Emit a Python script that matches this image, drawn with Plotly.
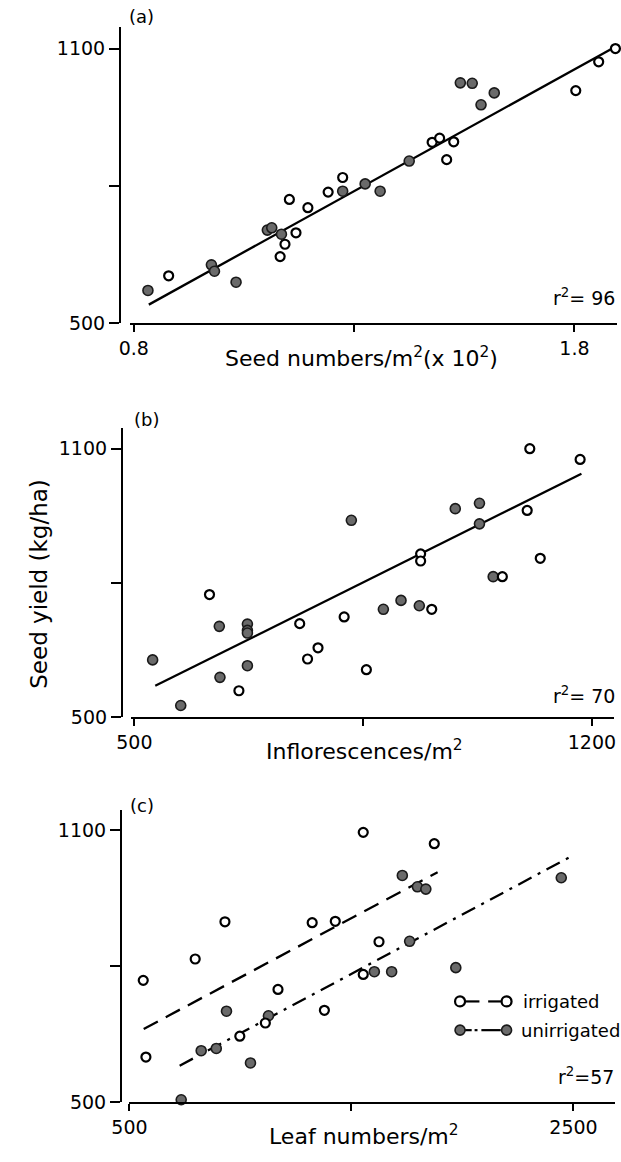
import plotly.graph_objects as go

# ---------------- data ----------------
# Panel (a): seed numbers/m2 (x10^2) vs seed yield (kg/ha)
a_irr_x = [0.879, 1.132, 1.143, 1.168, 1.153, 1.195, 1.241, 1.274, 1.477, 1.494, 1.526, 1.510, 1.803, 1.855, 1.893]
a_irr_y = [603, 645, 672, 697, 770, 752, 786, 818, 895, 904, 896, 857, 1008, 1071, 1100]
a_unirr_x = [0.832, 0.976, 0.983, 1.032, 1.103, 1.113, 1.135, 1.274, 1.325, 1.359, 1.425, 1.541, 1.568, 1.588, 1.618]
a_unirr_y = [571, 627, 613, 589, 703, 708, 694, 788, 804, 788, 854, 1025, 1024, 977, 1003]
a_fit_x = [0.834, 1.893]
a_fit_y = [540, 1104]

# Panel (b): inflorescences/m2 vs seed yield
b_irr_x = [615, 660, 753, 765, 781, 821, 855, 938, 938, 955, 1063, 1101, 1105, 1121, 1182]
b_irr_y = [774, 559, 709, 630, 655, 724, 606, 865, 849, 741, 814, 962, 1100, 855, 1076]
b_unirr_x = [528, 571, 630, 631, 673, 673, 673, 673, 832, 881, 908, 936, 991, 1028, 1028, 1049]
b_unirr_y = [628, 526, 703, 589, 708, 694, 688, 615, 940, 741, 761, 749, 966, 978, 932, 814]
b_fit_x = [532, 1184]
b_fit_y = [570, 1044]

# Panel (c): leaf numbers/m2 vs seed yield
c_irr_x = [562, 574, 796, 930, 997, 1112, 1169, 1323, 1378, 1427, 1553, 1553, 1624, 1873]
c_irr_y = [769, 600, 816, 898, 646, 675, 749, 896, 703, 899, 1095, 782, 854, 1070]
c_unirr_x = [733, 823, 891, 937, 1045, 1126, 1603, 1681, 1729, 1762, 1797, 1835, 1970, 2445]
c_unirr_y = [506, 614, 619, 701, 587, 691, 788, 788, 1000, 855, 975, 970, 797, 995]
c_fit_irr_x = [564, 1888]
c_fit_irr_y = [662, 1007]
c_fit_unirr_x = [726, 2478]
c_fit_unirr_y = [581, 1039]

y_ticks = [500, 1100]
y_minor = [800]
a_ticks = [0.8, 1.8]
a_minor = [1.3]
b_ticks = [500, 1200]
b_minor = [850]
c_ticks = [500, 2500]
c_minor = [1500]

r2_labels = ["r<sup>2</sup>= 96", "r<sup>2</sup>= 70", "r<sup>2</sup>=57"]
panel_labels = ["(a)", "(b)", "(c)"]
x_titles = ["Seed numbers/m<sup>2</sup>(x 10<sup>2</sup>)",
            "Inflorescences/m<sup>2</sup>",
            "Leaf numbers/m<sup>2</sup>"]
y_title = "Seed yield (kg/ha)"
legend_names = ["irrigated", "unirrigated"]

# ---------------- layout helpers ----------------
W, H = 621, 1162
FONT = "DejaVu Sans"


def px(p):
    return p / W


def py(p):
    return 1 - p / H


def val(p, v0, p0, v1, p1):
    return v0 + (p - p0) * (v1 - v0) / (p1 - p0)


panels = [
    dict(xdom=(116, 618), xmap=(0.8, 119.5, 1.8, 574), ydom=(27, 326), ymap=(1100, 49, 500, 326),
         yline=105, xt=a_ticks, xm=a_minor),
    dict(xdom=(117, 615), xmap=(500, 120, 1200, 592), ydom=(432, 724), ymap=(1100, 453, 500, 724),
         yline=107, xt=b_ticks, xm=b_minor),
    dict(xdom=(115, 616), xmap=(500, 115, 2500, 573), ydom=(818, 1113), ymap=(1100, 838, 500, 1113),
         yline=106, xt=c_ticks, xm=c_minor),
]

open_marker = dict(symbol="circle", size=9, color="white", line=dict(color="black", width=2.2))
fill_marker = dict(symbol="circle", size=10, color="#6a6a6a", line=dict(color="#1a1a1a", width=1.6))

fig = go.Figure()


def add_points(x, y, marker, k):
    fig.add_trace(go.Scatter(x=x, y=y, mode="markers", marker=marker, cliponaxis=False,
                             xaxis="x" if k == 1 else f"x{k}", yaxis="y" if k == 1 else f"y{k}",
                             showlegend=False, hoverinfo="x+y"))


def add_line(x, y, dash, k):
    fig.add_trace(go.Scatter(x=x, y=y, mode="lines", line=dict(color="black", width=2.3, dash=dash),
                             cliponaxis=False,
                             xaxis="x" if k == 1 else f"x{k}", yaxis="y" if k == 1 else f"y{k}",
                             showlegend=False, hoverinfo="skip"))


# panel a
add_line(a_fit_x, a_fit_y, "solid", 1)
add_points(a_unirr_x, a_unirr_y, fill_marker, 1)
add_points(a_irr_x, a_irr_y, open_marker, 1)
# panel b
add_line(b_fit_x, b_fit_y, "solid", 2)
add_points(b_unirr_x, b_unirr_y, fill_marker, 2)
add_points(b_irr_x, b_irr_y, open_marker, 2)
# panel c
add_line(c_fit_irr_x, c_fit_irr_y, "16px,9px", 3)
add_line(c_fit_unirr_x, c_fit_unirr_y, "15px,7px,3px,7px", 3)
add_points(c_unirr_x, c_unirr_y, fill_marker, 3)
add_points(c_irr_x, c_irr_y, open_marker, 3)

layout = dict(width=W, height=H, margin=dict(l=0, r=0, t=0, b=0),
              paper_bgcolor="white", plot_bgcolor="white", showlegend=False,
              font=dict(family=FONT, size=19, color="black"))

for i, p in enumerate(panels, start=1):
    xs = "xaxis" if i == 1 else f"xaxis{i}"
    ys = "yaxis" if i == 1 else f"yaxis{i}"
    xr = [val(p["xdom"][0], *p["xmap"]), val(p["xdom"][1], *p["xmap"])]
    yr = [val(p["ydom"][1], *p["ymap"]), val(p["ydom"][0], *p["ymap"])]
    layout[xs] = dict(domain=[px(p["xdom"][0]), px(p["xdom"][1])], range=xr,
                      anchor="y" if i == 1 else f"y{i}",
                      showline=True, linecolor="black", linewidth=1.6, showgrid=False, zeroline=False,
                      ticks="outside", ticklen=7, tickwidth=1.6, tickcolor="black",
                      tickvals=p["xt"], tickfont=dict(family=FONT, size=19),
                      minor=dict(tickvals=p["xm"], ticks="outside", ticklen=7, tickwidth=1.6,
                                 tickcolor="black", showgrid=False))
    layout[ys] = dict(domain=[py(p["ydom"][1]), py(p["ydom"][0])], range=yr,
                      anchor="free", position=px(p["yline"]),
                      showline=True, linecolor="black", linewidth=1.6, showgrid=False, zeroline=False,
                      ticks="outside", ticklen=10, tickwidth=1.6, tickcolor="black",
                      tickvals=y_ticks, tickfont=dict(family=FONT, size=19),
                      minor=dict(tickvals=y_minor, ticks="outside", ticklen=10, tickwidth=1.6,
                                 tickcolor="black", showgrid=False))

annotations = []


def ann(text, x, y, xanchor="center", size=19, angle=0):
    annotations.append(dict(text=text, x=px(x), y=py(y), xref="paper", yref="paper",
                            xanchor=xanchor, yanchor="middle", showarrow=False, textangle=angle,
                            font=dict(family=FONT, size=size, color="black")))


for lbl, (x, y) in zip(panel_labels, [(127, 17), (133, 424), (128, 813)]):
    ann(lbl, x, y, size=18)
for lbl, (x, y) in zip(r2_labels, [(618, 300), (618, 702), (617, 1086)]):
    ann(lbl, x, y, xanchor="right", size=19)
for lbl, (x, y) in zip(x_titles, [(354, 360), (357, 757), (357, 1146)]):
    ann(lbl, x, y, size=22)
ann(y_title, 22, 589, size=23, angle=-90)
ann(legend_names[0], 519, 1011, xanchor="left", size=18)
ann(legend_names[1], 517, 1040, xanchor="left", size=18)
layout["annotations"] = annotations

# legend samples
shapes = []


def circ(cx, cy, filled):
    shapes.append(dict(type="circle", xref="paper", yref="paper", xsizemode="pixel", ysizemode="pixel",
                       xanchor=px(cx), yanchor=py(cy), x0=-5, x1=5, y0=-5, y1=5,
                       fillcolor="#6a6a6a" if filled else "white",
                       line=dict(color="#1a1a1a" if filled else "black", width=1.6 if filled else 2.2)))


def seg(x0, x1, y):
    shapes.append(dict(type="line", xref="paper", yref="paper", x0=px(x0), x1=px(x1), y0=py(y), y1=py(y),
                       line=dict(color="black", width=2.2)))


seg(461, 476, 1011)
seg(485, 499, 1011)
circ(456, 1011, False)
circ(504, 1011, False)
seg(460, 468, 1040)
seg(471, 474, 1040)
seg(478, 498, 1040)
circ(456, 1040, True)
circ(504, 1040, True)
layout["shapes"] = shapes

fig.update_layout(**layout)
fig.write_html("out.html", config={"displayModeBar": False},
               post_script="document.body.style.margin='0';document.body.style.overflow='hidden';"
                           "document.documentElement.style.overflow='hidden';")
